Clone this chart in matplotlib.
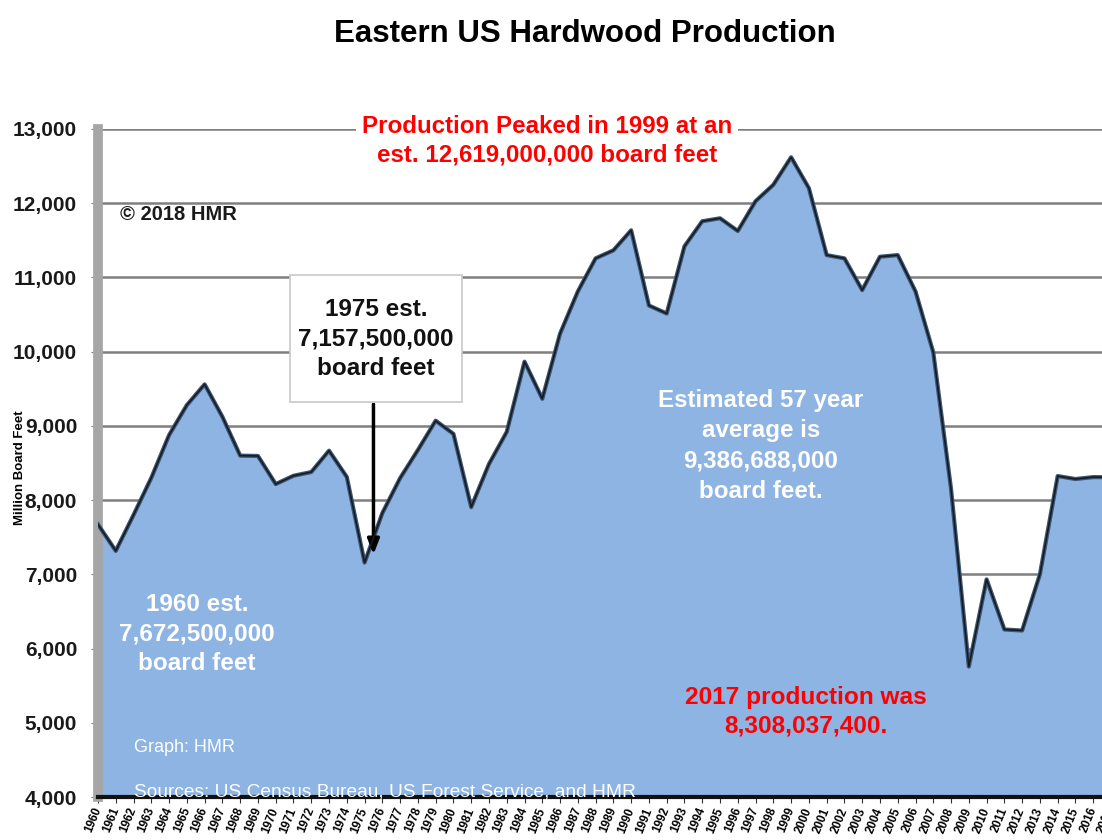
import matplotlib.pyplot as plt
from matplotlib.patches import Rectangle

plt.rcParams['font.family'] = ['Liberation Sans', 'DejaVu Sans']

# Eastern US hardwood production, million board feet
years = list(range(1960, 2018))
production = [7672, 7316, 7800, 8300, 8876, 9280, 9560, 9122, 8599, 8595,
              8216, 8328, 8378, 8666, 8311, 7158, 7825, 8296, 8674, 9070,
              8892, 7905, 8486, 8919, 9865, 9365, 10243, 10811, 11257, 11365,
              11635, 10622, 10514, 11419, 11757, 11797, 11626, 12027, 12248, 12619,
              12203, 11301, 11257, 10829, 11279, 11301, 10811, 9990, 8150, 5757,
              6932, 6257, 6243, 7000, 8324, 8284, 8310, 8308]
yticks = [4000, 5000, 6000, 7000, 8000, 9000, 10000, 11000, 12000, 13000]

W, H = 1102, 840
fig = plt.figure(figsize=(W / 100, H / 100), dpi=100)
# plot area runs a little past the right edge, like the cropped original
ax = fig.add_axes([98 / W, 1 - 797 / H, (1111 - 98) / W, (797 - 129) / H])

ax.set_xlim(1960, 2017)
ax.set_ylim(4000, 13000)

for yv in yticks[1:]:
    ax.axhline(yv, color='#7f7f7f', lw=1.8, zorder=1)

ax.fill_between(years, production, 4000, color='#8db4e3', lw=0, zorder=2)
ax.plot(years, production, color='#3d5673', lw=3.0, zorder=3)
ax.plot(years, production, color='#151b22', lw=1.2, zorder=4)

ax.set_yticks(yticks)
ax.set_yticklabels([f'{v:,}' for v in yticks], fontsize=15, fontweight='bold', color='#1a1a1a')
ax.set_xticks(years)
ax.set_xticklabels([str(y) for y in years], rotation=68, ha='right', va='center',
                   rotation_mode='anchor', fontsize=8.5, fontweight='bold')
ax.tick_params(axis='y', length=5, color='#7f7f7f', pad=10)
ax.tick_params(axis='x', length=4, color='#333333', pad=4)

for s in ['top', 'right']:
    ax.spines[s].set_visible(False)
ax.spines['left'].set_color('#a6a6a6')
ax.spines['left'].set_linewidth(7)
ax.spines['bottom'].set_color('#111111')
ax.spines['bottom'].set_linewidth(3)
ax.spines['bottom'].set_zorder(5)

fig.text(20 / W, 1 - 468 / H, 'Million Board Feet', rotation=90, ha='center', va='center',
         fontsize=9.5, fontweight='bold')

fig.text(585 / W, 1 - 34 / H, 'Eastern US Hardwood Production', ha='center', va='center',
         fontsize=22.5, fontweight='bold')

fig.text(547 / W, 1 - 141 / H, 'Production Peaked in 1999 at an\nest. 12,619,000,000 board feet',
         ha='center', va='center', fontsize=17.4, fontweight='bold', color='#ff0000',
         linespacing=1.33,
         bbox=dict(facecolor='white', edgecolor='none', pad=4))

fig.text(120 / W, 1 - 215 / H, '© 2018 HMR', ha='left', va='center',
         fontsize=14.5, fontweight='bold', color='#1a1a1a')

ax.annotate('', xy=(1975.5, 7230), xytext=(1975.5, 9330),
            arrowprops=dict(arrowstyle='-|>,head_width=0.35,head_length=0.9',
                            color='black', lw=2.5))
fig.add_artist(Rectangle((290 / W, 1 - 402 / H), 172 / W, 127 / H, transform=fig.transFigure,
                         facecolor='white', edgecolor='#c8c8c8', lw=1.2, zorder=6))
fig.text(376 / W, 1 - 339 / H, '1975 est.\n7,157,500,000\nboard feet', ha='center', va='center',
         fontsize=17.5, fontweight='bold', color='#111111', linespacing=1.38, zorder=7)

fig.text(197 / W, 1 - 634 / H, '1960 est.\n7,672,500,000\nboard feet', ha='center', va='center',
         fontsize=17.5, fontweight='bold', color='white', linespacing=1.38)

fig.text(761 / W, 1 - 446 / H, 'Estimated 57 year\naverage is\n9,386,688,000\nboard feet.',
         ha='center', va='center', fontsize=17.4, fontweight='bold', color='white',
         linespacing=1.42)

fig.text(806 / W, 1 - 712 / H, '2017 production was\n8,308,037,400.', ha='center', va='center',
         fontsize=17.6, fontweight='bold', color='#ff0000', linespacing=1.33)

fig.text(134 / W, 1 - 748 / H, 'Graph: HMR', ha='left', va='center', fontsize=13, color='white')
fig.text(134 / W, 1 - 792 / H, 'Sources: US Census Bureau, US Forest Service, and HMR',
         ha='left', va='center', fontsize=13.8, color='white', zorder=10)

fig.savefig('out.png', dpi=100)
